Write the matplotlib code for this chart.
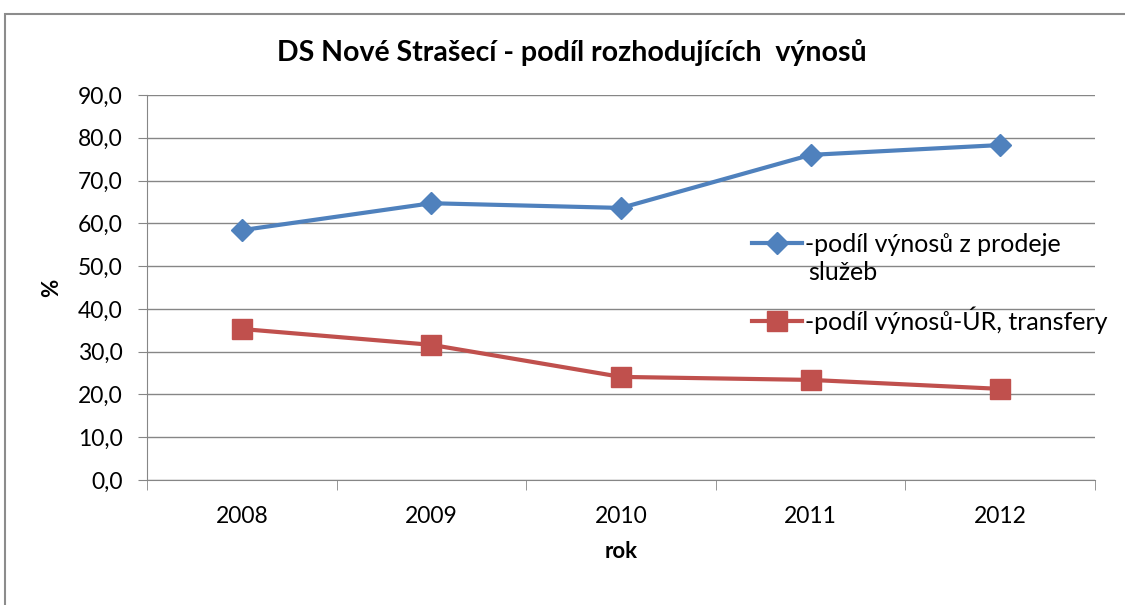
import matplotlib.pyplot as plt
from matplotlib.patches import Rectangle

years = ['2008', '2009', '2010', '2011', '2012']
sluzby = [58.4, 64.7, 63.6, 76.0, 78.3]
transfery = [35.3, 31.6, 24.1, 23.4, 21.3]
y_ticks = [0, 10, 20, 30, 40, 50, 60, 70, 80, 90]

plt.rcParams['font.family'] = ['Lato', 'DejaVu Sans']

fig = plt.figure(figsize=(11.25, 6.05), dpi=100)
ax = fig.add_axes([147 / 1125, 1 - 480 / 605, 948 / 1125, 385 / 605])

# outer chart border
fig.patches.append(Rectangle((5 / 1125, -0.1), 1.2, 1.1 - 14 / 605,
                             transform=fig.transFigure, fill=False,
                             edgecolor='#8c8c8c', linewidth=1.5))

x = range(len(years))
ax.plot(x, sluzby, color='#4F81BD', linewidth=3, marker='D', markersize=11,
        label='-podíl výnosů z prodeje')
ax.plot(x, transfery, color='#C0504D', linewidth=3, marker='s', markersize=14,
        label='-podíl výnosů-ÚR, transfery')

ax.set_xlim(-0.5, 4.5)
ax.set_ylim(0, 90)
ax.set_yticks(y_ticks)
ax.set_yticklabels([f'{v:.1f}'.replace('.', ',') for v in y_ticks], fontsize=16.5)
ax.set_xticks(list(x))
ax.set_xticklabels(years, fontsize=16.5)
ax.set_xticks([i - 0.5 for i in range(len(years) + 1)], minor=True)
ax.tick_params(axis='x', which='major', length=0, pad=19)
ax.tick_params(axis='x', which='minor', length=7, color='#868686')
ax.tick_params(axis='y', length=6.5, color='#868686', pad=11)
ax.grid(axis='y', color='#868686', linewidth=1)
ax.set_axisbelow(True)
for s in ['top', 'right']:
    ax.spines[s].set_visible(False)
for s in ['left', 'bottom']:
    ax.spines[s].set_color('#868686')

ax.set_xlabel('rok', fontsize=16, fontweight='bold', labelpad=10)
ax.set_ylabel('%', fontsize=16, fontweight='bold')
ax.yaxis.set_label_coords(-85 / 948, 0.5)
fig.text(0.508, 1 - 52 / 605, 'DS Nové Strašecí - podíl rozhodujících  výnosů',
         ha='center', va='center', fontsize=20.5, fontweight='bold')

ax.legend(loc='upper left', bbox_to_anchor=(752 / 1125, 1 - 233 / 605),
          bbox_transform=fig.transFigure,
          frameon=False, fontsize=18, handlelength=2.0, handletextpad=0.12,
          labelspacing=2.0, borderaxespad=0, borderpad=0)
fig.text(808 / 1125, 1 - 273 / 605, 'služeb', ha='left', va='center', fontsize=18)

fig.savefig('out.png', dpi=100)
